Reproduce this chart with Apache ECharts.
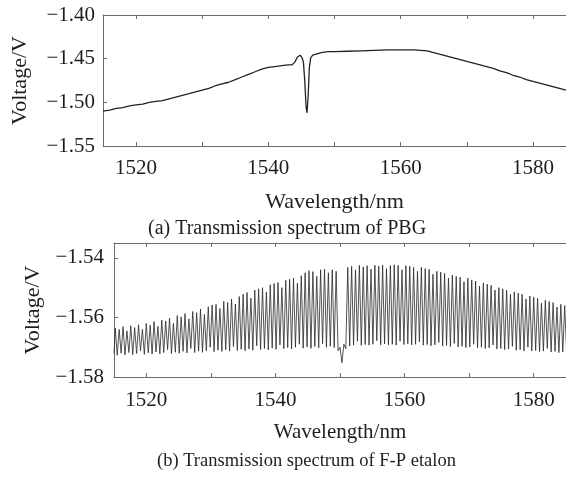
<!DOCTYPE html>
<html>
<head>
<meta charset="utf-8">
<script src="https://cdn.jsdelivr.net/npm/echarts@6/dist/echarts.min.js"></script>
<style>
  html, body { margin: 0; padding: 0; background: #fff; }
  #chart { width: 566px; height: 479px; }
</style>
</head>
<body>
<div id="chart"></div>
<script>
// (a) PBG transmission
var pbgWavelength = [1515, 1516, 1517, 1518, 1519, 1520, 1521, 1522, 1523, 1524, 1525, 1526, 1527, 1528, 1529,
  1530, 1531, 1532, 1533, 1534, 1535, 1536, 1537, 1538, 1539, 1540, 1541, 1542, 1543, 1543.6, 1544.0, 1544.4,
  1544.8, 1545.1, 1545.3, 1545.5, 1545.7, 1545.85, 1546.0, 1546.2, 1546.4, 1546.7, 1547, 1548, 1549, 1550,
  1552, 1554, 1556, 1558, 1560, 1562, 1563, 1564, 1565, 1566, 1567, 1568, 1569, 1570, 1571, 1572, 1573, 1574,
  1575, 1576, 1577, 1578, 1579, 1580, 1581, 1582, 1583, 1584, 1585];
var pbgVoltage = [-1.510, -1.509, -1.507, -1.506, -1.504, -1.503, -1.502, -1.500, -1.499, -1.498, -1.496, -1.494,
  -1.492, -1.490, -1.488, -1.486, -1.484, -1.481, -1.479, -1.477, -1.474, -1.471, -1.468, -1.465, -1.462, -1.460,
  -1.459, -1.458, -1.457, -1.457, -1.454, -1.448, -1.446, -1.449, -1.454, -1.475, -1.505, -1.512, -1.495, -1.460,
  -1.449, -1.446, -1.444, -1.443, -1.442, -1.442, -1.4415, -1.441, -1.4405, -1.440, -1.440, -1.440, -1.4405,
  -1.441, -1.443, -1.445, -1.447, -1.449, -1.451, -1.453, -1.455, -1.457, -1.459, -1.461, -1.464, -1.466, -1.469,
  -1.471, -1.474, -1.476, -1.478, -1.480, -1.482, -1.484, -1.486];

// (b) F-P etalon comb: fringe tops and bottoms
var fpPeakNm = [
  1515.2, 1515.8, 1516.4, 1517.0, 1517.6, 1518.2, 1518.8, 1519.4, 1520.0, 1520.6,
  1521.2, 1521.8, 1522.4, 1523.0, 1523.6, 1524.2, 1524.8, 1525.4, 1526.0, 1526.6,
  1527.2, 1527.8, 1528.4, 1529.0, 1529.6, 1530.2, 1530.8, 1531.4, 1532.0, 1532.6,
  1533.2, 1533.8, 1534.4, 1535.0, 1535.6, 1536.2, 1536.8, 1537.4, 1538.0, 1538.6,
  1539.2, 1539.8, 1540.4, 1541.0, 1541.6, 1542.2, 1542.8, 1543.4, 1544.0, 1544.6,
  1545.2, 1545.8, 1546.4, 1547.0, 1547.6, 1548.2, 1548.8, 1549.4, 1550.0, 1550.6,
  1551.2, 1551.8, 1552.4, 1553.0, 1553.6, 1554.2, 1554.8, 1555.4, 1556.0, 1556.6,
  1557.2, 1557.8, 1558.4, 1559.0, 1559.6, 1560.2, 1560.8, 1561.4, 1562.0, 1562.6,
  1563.2, 1563.8, 1564.4, 1565.0, 1565.6, 1566.2, 1566.8, 1567.4, 1568.0, 1568.6,
  1569.2, 1569.8, 1570.4, 1571.0, 1571.6, 1572.2, 1572.8, 1573.4, 1574.0, 1574.6,
  1575.2, 1575.8, 1576.4, 1577.0, 1577.6, 1578.2, 1578.8, 1579.4, 1580.0, 1580.6,
  1581.2, 1581.8, 1582.4, 1583.0, 1583.6, 1584.2, 1584.8];
var fpPeakV = [
  -1.5636, -1.5640, -1.5631, -1.5645, -1.5628, -1.5634, -1.5625, -1.5640, -1.5620, -1.5626,
  -1.5614, -1.5630, -1.5609, -1.5612, -1.5602, -1.5620, -1.5594, -1.5598, -1.5587, -1.5605,
  -1.5580, -1.5584, -1.5572, -1.5590, -1.5564, -1.5558, -1.5556, -1.5570, -1.5546, -1.5550,
  -1.5538, -1.5555, -1.5530, -1.5522, -1.5516, -1.5535, -1.5508, -1.5504, -1.5500, -1.5515,
  -1.5490, -1.5486, -1.5483, -1.5500, -1.5475, -1.5472, -1.5468, -1.5485, -1.5460, -1.5450,
  -1.5443, -1.5446, -1.5462, -1.5440, -1.5438, -1.5450, -1.5440, -1.5445, -1.5700, -1.5690,
  -1.5432, -1.5428, -1.5440, -1.5425, -1.5430, -1.5426, -1.5438, -1.5425, -1.5428, -1.5424,
  -1.5436, -1.5426, -1.5423, -1.5425, -1.5440, -1.5426, -1.5428, -1.5432, -1.5445, -1.5432,
  -1.5436, -1.5438, -1.5455, -1.5445, -1.5448, -1.5452, -1.5468, -1.5458, -1.5462, -1.5465,
  -1.5480, -1.5468, -1.5474, -1.5478, -1.5495, -1.5484, -1.5488, -1.5492, -1.5508, -1.5500,
  -1.5504, -1.5508, -1.5522, -1.5514, -1.5518, -1.5522, -1.5538, -1.5528, -1.5532, -1.5536,
  -1.5552, -1.5542, -1.5546, -1.5550, -1.5565, -1.5556, -1.5560];
var fpValleyNm = [
  1515.0, 1515.5, 1516.1, 1516.7, 1517.3, 1517.9, 1518.5, 1519.1, 1519.7, 1520.3,
  1520.9, 1521.5, 1522.1, 1522.7, 1523.3, 1523.9, 1524.5, 1525.1, 1525.7, 1526.3,
  1526.9, 1527.5, 1528.1, 1528.7, 1529.3, 1529.9, 1530.5, 1531.1, 1531.7, 1532.3,
  1532.9, 1533.5, 1534.1, 1534.7, 1535.3, 1535.9, 1536.5, 1537.1, 1537.7, 1538.3,
  1538.9, 1539.5, 1540.1, 1540.7, 1541.3, 1541.9, 1542.5, 1543.1, 1543.7, 1544.3,
  1544.9, 1545.5, 1546.1, 1546.7, 1547.3, 1547.9, 1548.5, 1549.1, 1549.7, 1550.3,
  1550.9, 1551.5, 1552.1, 1552.7, 1553.3, 1553.9, 1554.5, 1555.1, 1555.7, 1556.3,
  1556.9, 1557.5, 1558.1, 1558.7, 1559.3, 1559.9, 1560.5, 1561.1, 1561.7, 1562.3,
  1562.9, 1563.5, 1564.1, 1564.7, 1565.3, 1565.9, 1566.5, 1567.1, 1567.7, 1568.3,
  1568.9, 1569.5, 1570.1, 1570.7, 1571.3, 1571.9, 1572.5, 1573.1, 1573.7, 1574.3,
  1574.9, 1575.5, 1576.1, 1576.7, 1577.3, 1577.9, 1578.5, 1579.1, 1579.7, 1580.3,
  1580.9, 1581.5, 1582.1, 1582.7, 1583.3, 1583.9, 1584.5, 1585.1];
var fpValleyV = [
  -1.5722, -1.5727, -1.5720, -1.5726, -1.5718, -1.5725, -1.5721, -1.5712, -1.5724, -1.5719,
  -1.5723, -1.5716, -1.5722, -1.5718, -1.5708, -1.5721, -1.5717, -1.5720, -1.5714, -1.5719,
  -1.5704, -1.5718, -1.5713, -1.5717, -1.5712, -1.5700, -1.5715, -1.5710, -1.5714, -1.5709,
  -1.5713, -1.5698, -1.5711, -1.5707, -1.5712, -1.5706, -1.5710, -1.5695, -1.5708, -1.5704,
  -1.5709, -1.5703, -1.5707, -1.5692, -1.5705, -1.5701, -1.5706, -1.5700, -1.5690, -1.5703,
  -1.5699, -1.5704, -1.5698, -1.5702, -1.5688, -1.5700, -1.5697, -1.5701, -1.5712, -1.5752,
  -1.5705, -1.5696, -1.5693, -1.5680, -1.5694, -1.5691, -1.5693, -1.5690, -1.5678, -1.5692,
  -1.5689, -1.5692, -1.5690, -1.5693, -1.5680, -1.5691, -1.5689, -1.5692, -1.5690, -1.5682,
  -1.5693, -1.5691, -1.5695, -1.5692, -1.5684, -1.5696, -1.5694, -1.5698, -1.5687, -1.5699,
  -1.5697, -1.5701, -1.5699, -1.5690, -1.5702, -1.5700, -1.5704, -1.5702, -1.5692, -1.5706,
  -1.5704, -1.5708, -1.5706, -1.5697, -1.5710, -1.5708, -1.5712, -1.5700, -1.5713, -1.5711,
  -1.5715, -1.5713, -1.5704, -1.5716, -1.5714, -1.5718, -1.5716, -1.5719];

var xTicks = [1520, 1530, 1540, 1550, 1560, 1570, 1580];
var xLabels = [1520, 1540, 1560, 1580];
var yTicksA = [-1.55, -1.50, -1.45, -1.40];
var yTicksB = [-1.58, -1.56, -1.54];

var FONT = 'Liberation Serif';
var AXIS_COLOR = '#6b6b6b';
var TEXT_COLOR = '#1e1e1e';

function pairs(xs, ys) {
  return xs.map(function (x, i) { return [x, ys[i]]; });
}

var pbgData = pairs(pbgWavelength, pbgVoltage);
var fpData = pairs(fpPeakNm, fpPeakV).concat(pairs(fpValleyNm, fpValleyV))
  .sort(function (a, b) { return a[0] - b[0]; });

function minus(v) {
  return (+v).toFixed(2).replace('-', '\u2212');
}

function xAxisPair(gridIndex, labelMargin, nameSize) {
  return [{
    type: 'value', gridIndex: gridIndex, min: 1515, max: 1585, position: 'bottom',
    name: 'Wavelength/nm', nameLocation: 'middle', nameGap: 45,
    nameTextStyle: { fontFamily: FONT, fontSize: nameSize, color: TEXT_COLOR },
    axisLine: { show: true, lineStyle: { color: AXIS_COLOR, width: 1 } },
    axisTick: { show: true, inside: true, length: 4, customValues: xTicks, lineStyle: { color: AXIS_COLOR } },
    axisLabel: {
      customValues: xLabels, margin: labelMargin, fontFamily: FONT, fontSize: 21, color: TEXT_COLOR,
      formatter: function (v) { return String(v); }
    },
    splitLine: { show: false }
  }, {
    type: 'value', gridIndex: gridIndex, min: 1515, max: 1585, position: 'top',
    axisLine: { show: true, lineStyle: { color: AXIS_COLOR, width: 1 } },
    axisTick: { show: true, inside: true, length: 4, customValues: xTicks, lineStyle: { color: AXIS_COLOR } },
    axisLabel: { show: false },
    splitLine: { show: false }
  }];
}

function yAxisOne(gridIndex, min, max, ticks, nameGap, labelMargin) {
  return {
    type: 'value', gridIndex: gridIndex, min: min, max: max, position: 'left',
    name: 'Voltage/V', nameLocation: 'middle', nameGap: nameGap, nameRotate: 90,
    nameTextStyle: { fontFamily: FONT, fontSize: 22, color: TEXT_COLOR },
    axisLine: { show: true, lineStyle: { color: AXIS_COLOR, width: 1 } },
    axisTick: { show: true, inside: true, length: 4, customValues: ticks, lineStyle: { color: AXIS_COLOR } },
    axisLabel: { customValues: ticks, margin: labelMargin, fontFamily: FONT, fontSize: 21, color: TEXT_COLOR, formatter: minus },
    splitLine: { show: false }
  };
}

var chart = echarts.init(document.getElementById('chart'), null, { renderer: 'canvas' });
chart.setOption({
  animation: false,
  backgroundColor: '#fff',
  grid: [
    { left: 103, top: 15, width: 470, height: 131 },
    { left: 114, top: 243, width: 454, height: 134 }
  ],
  xAxis: xAxisPair(0, 12, 22).concat(xAxisPair(1, 13, 21)),
  yAxis: [
    yAxisOne(0, -1.55, -1.40, yTicksA, 72, 8),
    yAxisOne(1, -1.58, -1.535, yTicksB, 63, 10)
  ],
  graphic: [
    { type: 'text', left: 148, top: 219, style: { text: '(a) Transmission spectrum of PBG', font: '20px ' + FONT, fill: TEXT_COLOR } },
    { type: 'text', left: 157, top: 452, style: { text: '(b) Transmission spectrum of F-P etalon', font: '18.5px ' + FONT, fill: TEXT_COLOR } }
  ],
  series: [{
    type: 'line', xAxisIndex: 0, yAxisIndex: 0, data: pbgData,
    showSymbol: false, silent: true,
    lineStyle: { color: '#222', width: 1.3 }
  }, {
    type: 'line', xAxisIndex: 2, yAxisIndex: 1, data: fpData,
    showSymbol: false, silent: true,
    lineStyle: { color: '#2a2a2a', width: 0.8 }
  }]
});
</script>
</body>
</html>
